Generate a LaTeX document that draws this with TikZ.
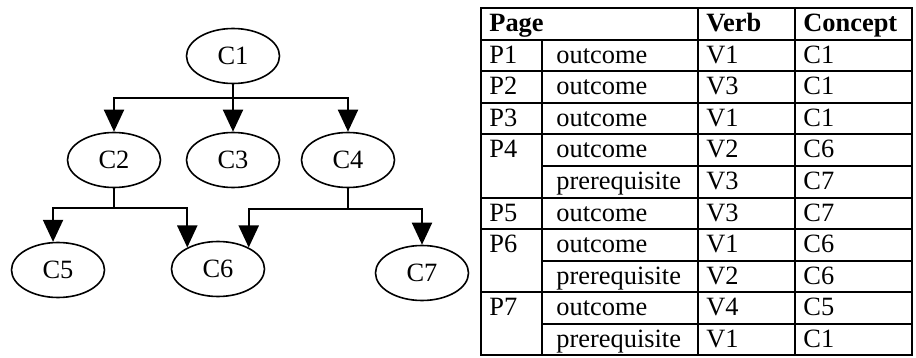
\documentclass[tikz,border=0pt]{standalone}
\usepackage{fontspec}
\setmainfont{Liberation Serif}
\usetikzlibrary{arrows.meta,shapes.geometric}

\tikzset{
  concept/.style={ellipse, draw, line width=0.8pt, minimum width=46.5pt, minimum height=27.5pt, inner sep=0pt},
  link/.style={line width=1pt},
  arr/.style={link, -{Triangle[length=11pt,width=10pt]}},
  rule/.style={line width=1pt},
  cell/.style={anchor=base west, inner sep=0pt},
  head/.style={cell, font=\fontsize{13.2}{15}\selectfont\bfseries},
}

\begin{document}
\begin{tikzpicture}[x=0.5pt, y=-0.5pt, font=\fontsize{13.2}{15}\selectfont]
    \useasboundingbox (0,0) rectangle (916,358);
    % concept hierarchy
    \node[concept] (c1) at (233,56) {C1};
    \node[concept] (c2) at (114,160) {C2};
    \node[concept] (c3) at (233,160) {C3};
    \node[concept] (c4) at (348,160) {C4};
    \node[concept] (c5) at (58,270) {C5};
    \node[concept] (c6) at (218,269) {C6};
    \node[concept] (c7) at (422,273) {C7};
    \coordinate (j1) at (c1 |- 0,98);
    \coordinate (j2) at (c2 |- 0,208);
    \coordinate (j4) at (c4 |- 0,209);
    \draw[link] (c1) -- (j1);
    \draw[arr] (j1) -| (c2.north);
    \draw[arr] (j1) -- (c3.north);
    \draw[arr] (j1) -| (c4.north);
    \draw[link] (c2) -- (j2);
    \draw[arr] (j2) -| (c5.100);
    \draw[arr] (j2) -| (c6.145);
    \draw[link] (c4) -- (j4);
    \draw[arr] (j4) -| (c6.35);
    \draw[arr] (j4) -| (c7.north);
    % page table
    \draw[rule] (481,8) rectangle (912,355);
    \foreach \y in {40,71.5,103,134.5,197.5,229,292}
        \draw[rule] (481,\y) -- (912,\y);
    \foreach \y in {166,260.5,323.5}
        \draw[rule] (542,\y) -- (912,\y);
    \draw[rule] (542,40) -- (542,355);
    \draw[rule] (698,8) -- (698,355);
    \draw[rule] (795,8) -- (795,355);
    \node[head] (hpage) at (489,32) {Page};
    \node[head] (hverb) at (706,32) {Verb};
    \node[head] (hconcept) at (803,32) {Concept};
    \foreach \p/\r/\v/\c [count=\i] in {P1/outcome/V1/C1, P2/outcome/V3/C1,
        P3/outcome/V1/C1, P4/outcome/V2/C6, /prerequisite/V3/C7, P5/outcome/V3/C7,
        P6/outcome/V1/C6, /prerequisite/V2/C6, P7/outcome/V4/C5, /prerequisite/V1/C1}
    {
        \pgfmathsetmacro\yb{32+31.5*\i}
        \node[cell] (p\i) at (489,\yb) {\p};
        \node[cell] (r\i) at (556,\yb) {\r};
        \node[cell] (v\i) at (706,\yb) {\v};
        \node[cell] (k\i) at (803,\yb) {\c};
    }
\end{tikzpicture}
\end{document}
